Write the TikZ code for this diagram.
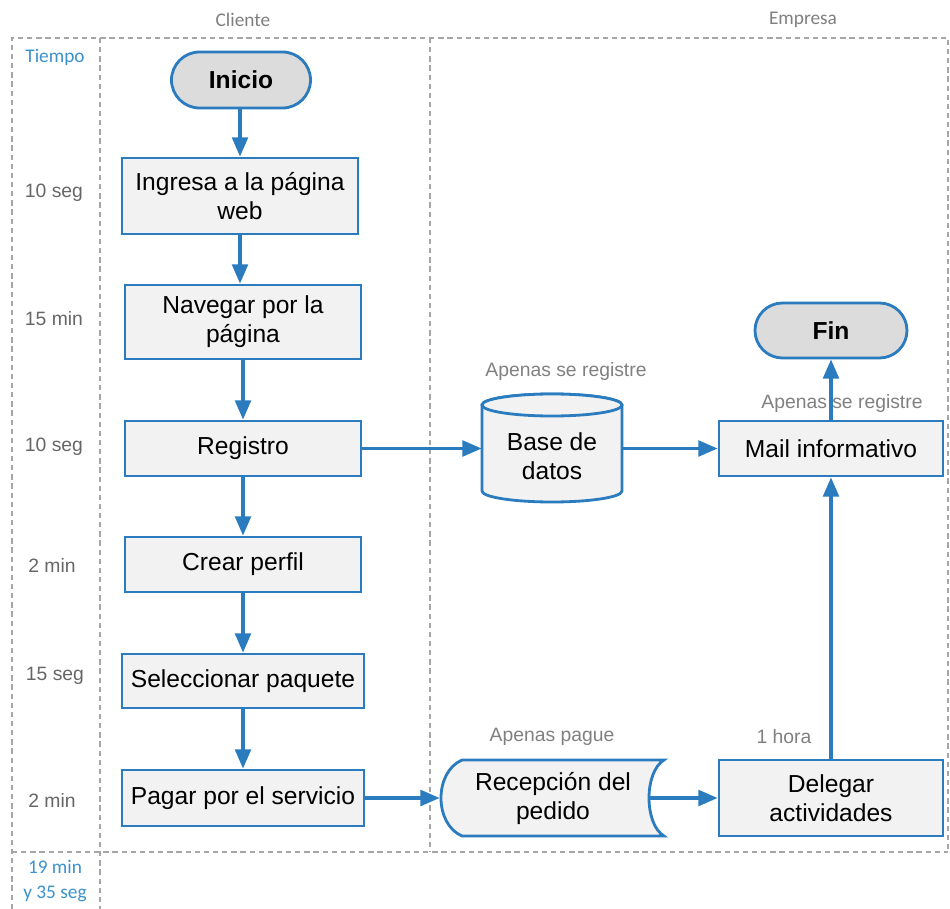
\documentclass[tikz,border=0pt]{standalone}
\usepackage{fontspec}
\setmainfont{Liberation Sans}
\newfontfamily\lanefont{Carlito}
\usetikzlibrary{arrows.meta,shapes.misc}
\definecolor{flowblue}{HTML}{2B7BBF}
\definecolor{boxfill}{HTML}{F2F2F2}
\definecolor{pillfill}{HTML}{DCDCDC}
\definecolor{laneline}{HTML}{A6A6A6}
\definecolor{lanetext}{HTML}{7F7F7F}
\definecolor{timeblue}{HTML}{3B92CC}
\definecolor{timegray}{HTML}{666666}
\definecolor{notegray}{HTML}{808080}
\begin{document}
\begin{tikzpicture}[x=0.02cm,y=-0.02cm,
  lane/.style={draw=laneline, line width=0.6pt, dash pattern=on 3pt off 2.2pt},
  procbox/.style={rectangle, draw=flowblue, fill=boxfill, line width=1.6pt, align=center,
    font=\fontsize{14}{16.5}\selectfont, inner sep=0pt},
  pill/.style={rounded rectangle, draw=flowblue, fill=pillfill, line width=1.6pt,
    font=\fontsize{14}{16.5}\selectfont\bfseries, inner sep=0pt},
  ghost/.style={rectangle, inner sep=0pt},
  shapeline/.style={draw=flowblue, fill=boxfill, line width=1.6pt},
  flow/.style={draw=flowblue, line width=1.8pt, -{Triangle[length=11pt,width=9pt]}},
  timelbl/.style={text=timegray, font=\fontsize{11}{13}\selectfont},
  bluelbl/.style={text=timeblue, font=\lanefont\fontsize{11}{14}\selectfont, align=center},
  headlbl/.style={text=lanetext, font=\lanefont\fontsize{11}{13}\selectfont},
  notelbl/.style={text=notegray, font=\fontsize{11}{13}\selectfont},
  nodetext/.style={align=center, font=\fontsize{14}{16.5}\selectfont, inner sep=0pt}
]
\useasboundingbox (0,0) rectangle (950,909);

% lanes
\draw[lane] (12,909) -- (12,38) -- (948,38) -- (948,852);
\draw[lane] (12,852) -- (948,852);
\draw[lane] (100,38) -- (100,909);
\draw[lane] (430,38) -- (430,852);

\node[headlbl] (hcli) at (243,20) {Cliente};
\node[headlbl] (hemp) at (803,20) {Empresa};

\node[bluelbl] (tiempo) at (55,57) {Tiempo};
\node[timelbl] (t1) at (54,193) {10 seg};
\node[timelbl] (t2) at (54,319) {15 min};
\node[timelbl] (t3) at (54,447) {10 seg};
\node[timelbl] (t4) at (52,565) {2 min};
\node[timelbl] (t5) at (55,676) {15 seg};
\node[timelbl] (t6) at (52,800) {2 min};
\node[bluelbl] (total) at (55,881) {19 min\\y 35 seg};

% client column
\node[pill, minimum width={139*0.02cm}, minimum height={56*0.02cm}] (inicio) at (241,80) {Inicio};
\node[procbox, minimum width={236*0.02cm}, minimum height={76*0.02cm}] (ingresa) at (240,196) {Ingresa a la página\\web};
\node[procbox, minimum width={236*0.02cm}, minimum height={74*0.02cm}] (navegar) at (243,322) {Navegar por la\\página};
\node[procbox, minimum width={236*0.02cm}, minimum height={55*0.02cm}] (registro) at (243,448.5) {Registro};
\node[procbox, minimum width={236*0.02cm}, minimum height={55*0.02cm}] (perfil) at (243,564.5) {Crear perfil};
\node[procbox, minimum width={242*0.02cm}, minimum height={54*0.02cm}] (paquete) at (243,681) {Seleccionar paquete};
\node[procbox, minimum width={242*0.02cm}, minimum height={56*0.02cm}] (pagar) at (243,798) {Pagar por el servicio};

% database cylinder
\node[ghost, minimum width={140*0.02cm}, minimum height={109*0.02cm}] (db) at (552,448.5) {};
\draw[shapeline] (482,405) -- (482,491) arc[start angle=180, end angle=360, x radius=1.4cm, y radius=0.22cm]
  -- (622,405) arc[start angle=0, end angle=180, x radius=1.4cm, y radius=0.22cm] -- cycle;
\draw[shapeline] (552,405) ellipse [x radius=1.4cm, y radius=0.22cm];
\node[nodetext] (dbtext) at (552,456) {Base de\\datos};

% stored data shape
\node[ghost, minimum width={208*0.02cm}, minimum height={76*0.02cm}] (recep) at (544,798) {};
\draw[shapeline] (462,760) -- (664,760) .. controls (644,772) and (644,824) .. (664,836)
  -- (462,836) .. controls (434,824) and (434,772) .. (462,760) -- cycle;
\node[nodetext] (receptext) at (553,798) {Recepción del\\pedido};

% company column
\node[pill, minimum width={152*0.02cm}, minimum height={55*0.02cm}] (fin) at (831,330.5) {Fin};
\node[procbox, minimum width={224*0.02cm}, minimum height={55*0.02cm}] (mail) at (831,448.5) {Mail informativo};
\node[procbox, minimum width={224*0.02cm}, minimum height={76*0.02cm}] (delegar) at (831,798) {Delegar\\actividades};

% notes
\node[notelbl] (n1) at (566,371) {Apenas se registre};
\node[notelbl] (n2) at (842,404) {Apenas se registre};
\node[notelbl] (n3) at (552,737) {Apenas pague};
\node[notelbl] (n4) at (784,737) {1 hora};

% connectors
\draw[flow] (inicio.south -| ingresa.north) -- (ingresa.north);
\draw[flow] (ingresa.south) -- (ingresa.south |- navegar.north);
\draw[flow] (navegar.south) -- (registro.north);
\draw[flow] (registro.south) -- (perfil.north);
\draw[flow] (perfil.south) -- (paquete.north);
\draw[flow] (paquete.south) -- (pagar.north);
\draw[flow] (registro.east) -- (db.west);
\draw[flow] (db.east) -- (mail.west);
\draw[flow] (pagar.east) -- (recep.west);
\draw[flow] (recep.east) -- (delegar.west);
\draw[flow] (delegar.north) -- (mail.south);
\draw[flow] (mail.north) -- (fin.south);
\end{tikzpicture}
\end{document}
